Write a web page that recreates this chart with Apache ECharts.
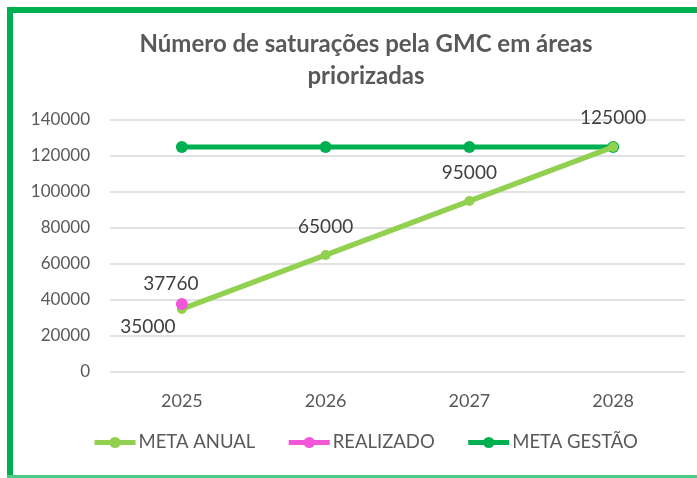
<!DOCTYPE html>
<html>
<head>
<meta charset="utf-8">
<script src="https://cdn.jsdelivr.net/npm/echarts@6/dist/echarts.min.js"></script>
<style>
  html, body { margin: 0; padding: 0; background: #fff; }
  #chart { width: 697px; height: 478px; }
</style>
</head>
<body>
<div id="chart"></div>
<script>
// data
var years = ['2025', '2026', '2027', '2028']
var metaAnual = [35000, 65000, 95000, 125000]
var realizado = [37760, null, null, null]
var metaGestao = [125000, 125000, 125000, 125000]
var yTicks = [0, 20000, 40000, 60000, 80000, 100000, 120000, 140000]

var font = 'Lato'
var textColor = '#595959'

// label offsets (style only), relative to the point
var anualOffsets = [[-34, 18], [0, -28], [0, -28], [0, -29]]

var chart = echarts.init(document.getElementById('chart'))
chart.setOption({
  animation: false,
  title: {
    text: 'Número de saturações pela GMC em áreas\npriorizadas',
    left: 361,
    textAlign: 'center',
    top: 23,
    textStyle: {
      color: textColor,
      fontFamily: font,
      fontWeight: 'bold',
      fontSize: 24,
      lineHeight: 32
    }
  },
  graphic: [
    { type: 'rect', shape: { x: 7, y: 7, width: 690, height: 6 }, style: { fill: '#00B050' } },
    { type: 'rect', shape: { x: 7, y: 7, width: 6, height: 471 }, style: { fill: '#00B050' } },
    { type: 'rect', shape: { x: 7, y: 475, width: 690, height: 3 }, style: { fill: '#4CCB86' } }
  ],
  legend: {
    bottom: 21,
    left: 87,
    itemWidth: 41,
    itemHeight: 14,
    itemGap: 31,
    lineStyle: { width: 5 },
    textStyle: { color: textColor, fontFamily: font, fontSize: 18.5, padding: [0, 0, 0, -2] },
    data: ['META ANUAL', 'REALIZADO', 'META GESTÃO']
  },
  grid: { left: 110, right: 12, top: 120, bottom: 106 },
  xAxis: {
    type: 'category',
    data: years,
    axisLine: { show: false },
    axisTick: { show: false },
    axisLabel: { color: textColor, fontFamily: font, fontSize: 18, margin: 20 }
  },
  yAxis: {
    type: 'value',
    min: yTicks[0],
    max: yTicks[yTicks.length - 1],
    interval: yTicks[1] - yTicks[0],
    axisLine: { show: false },
    axisTick: { show: false },
    axisLabel: {
      color: textColor,
      fontFamily: font,
      fontSize: 17,
      margin: 20,
      formatter: function (v) { return String(v) }
    },
    splitLine: { lineStyle: { color: '#D9D9D9', width: 1.5 } }
  },
  series: [
    {
      name: 'META GESTÃO',
      type: 'line',
      data: metaGestao,
      z: 2,
      symbol: 'circle',
      symbolSize: 12,
      itemStyle: { color: '#00B050' },
      lineStyle: { color: '#00B050', width: 5 }
    },
    {
      name: 'META ANUAL',
      type: 'line',
      data: metaAnual.map(function (v, i) {
        return {
          value: v,
          label: { show: true, position: 'inside', offset: anualOffsets[i] }
        }
      }),
      z: 3,
      symbol: 'circle',
      symbolSize: 10,
      itemStyle: { color: '#92D050' },
      lineStyle: { color: '#92D050', width: 5.5 },
      label: { color: '#404040', fontFamily: font, fontSize: 19 }
    },
    {
      name: 'REALIZADO',
      type: 'line',
      data: realizado,
      z: 4,
      symbol: 'circle',
      symbolSize: 12,
      itemStyle: { color: '#F456D9' },
      lineStyle: { color: '#F456D9', width: 5 },
      label: {
        show: true,
        position: 'inside',
        offset: [-11, -20],
        color: '#404040',
        fontFamily: font,
        fontSize: 19
      }
    }
  ]
})
</script>
</body>
</html>
